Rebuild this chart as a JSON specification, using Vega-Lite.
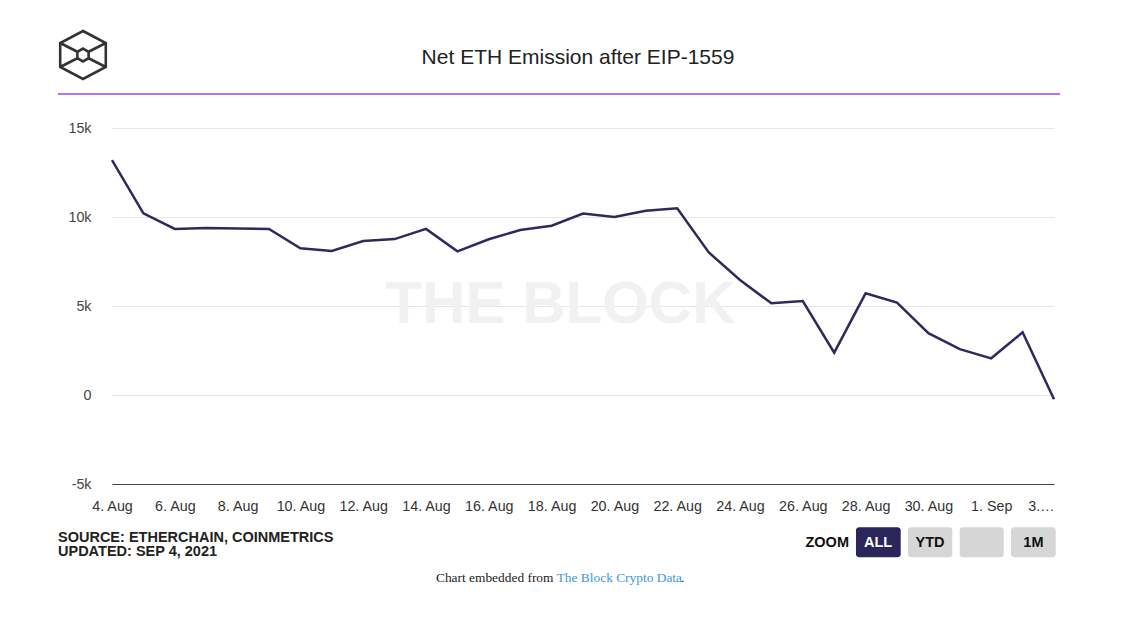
{
  "$schema": "https://vega.github.io/schema/vega-lite/v6.json",
  "width": 942,
  "height": 356,
  "autosize": {"type": "none"},
  "padding": {"left": 112, "top": 128, "right": 86, "bottom": 136},
  "background": "#ffffff",
  "config": {"view": {"stroke": null}, "font": "Liberation Sans"},
  "data": {
    "values": [
      {"date": "2021-08-04", "emission": 13200},
      {"date": "2021-08-05", "emission": 10210},
      {"date": "2021-08-06", "emission": 9330},
      {"date": "2021-08-07", "emission": 9380},
      {"date": "2021-08-08", "emission": 9350},
      {"date": "2021-08-09", "emission": 9330},
      {"date": "2021-08-10", "emission": 8240},
      {"date": "2021-08-11", "emission": 8090},
      {"date": "2021-08-12", "emission": 8650},
      {"date": "2021-08-13", "emission": 8760},
      {"date": "2021-08-14", "emission": 9330},
      {"date": "2021-08-15", "emission": 8070},
      {"date": "2021-08-16", "emission": 8750},
      {"date": "2021-08-17", "emission": 9270},
      {"date": "2021-08-18", "emission": 9510},
      {"date": "2021-08-19", "emission": 10190},
      {"date": "2021-08-20", "emission": 10000},
      {"date": "2021-08-21", "emission": 10350},
      {"date": "2021-08-22", "emission": 10490},
      {"date": "2021-08-23", "emission": 8020},
      {"date": "2021-08-24", "emission": 6460},
      {"date": "2021-08-25", "emission": 5150},
      {"date": "2021-08-26", "emission": 5280},
      {"date": "2021-08-27", "emission": 2380},
      {"date": "2021-08-28", "emission": 5710},
      {"date": "2021-08-29", "emission": 5190},
      {"date": "2021-08-30", "emission": 3470},
      {"date": "2021-08-31", "emission": 2580},
      {"date": "2021-09-01", "emission": 2060},
      {"date": "2021-09-02", "emission": 3520},
      {"date": "2021-09-03", "emission": -240}
    ]
  },
  "layer": [
    {
      "data": {"values": [{}]},
      "mark": {"type": "text", "text": "THE BLOCK", "fontSize": 60, "fontWeight": "bold", "color": "#f1f1f1", "align": "center", "baseline": "alphabetic"},
      "encoding": {
        "x": {"datum": {"year": 2021, "month": 8, "date": 18, "hours": 6, "minutes": 47, "utc": true}, "type": "temporal"},
        "y": {"datum": 4045, "type": "quantitative"}
      }
    },
    {
      "mark": {"type": "line", "color": "#2d2a5f", "strokeWidth": 2.5, "strokeJoin": "miter"},
      "encoding": {
        "x": {
          "field": "date",
          "type": "temporal",
          "scale": {"type": "utc", "domain": [{"year": 2021, "month": 8, "date": 4, "utc": true}, {"year": 2021, "month": 9, "date": 3, "utc": true}]},
          "axis": {
            "title": null,
            "format": "%-d. %b",
            "values": [
              {"year": 2021, "month": 8, "date": 4, "utc": true},
              {"year": 2021, "month": 8, "date": 6, "utc": true},
              {"year": 2021, "month": 8, "date": 8, "utc": true},
              {"year": 2021, "month": 8, "date": 10, "utc": true},
              {"year": 2021, "month": 8, "date": 12, "utc": true},
              {"year": 2021, "month": 8, "date": 14, "utc": true},
              {"year": 2021, "month": 8, "date": 16, "utc": true},
              {"year": 2021, "month": 8, "date": 18, "utc": true},
              {"year": 2021, "month": 8, "date": 20, "utc": true},
              {"year": 2021, "month": 8, "date": 22, "utc": true},
              {"year": 2021, "month": 8, "date": 24, "utc": true},
              {"year": 2021, "month": 8, "date": 26, "utc": true},
              {"year": 2021, "month": 8, "date": 28, "utc": true},
              {"year": 2021, "month": 8, "date": 30, "utc": true},
              {"year": 2021, "month": 9, "date": 1, "utc": true},
              {"year": 2021, "month": 9, "date": 3, "utc": true}
            ],
            "labelExpr": "+datum.value >= utc(2021, 8, 3) ? '3.…' : datum.label",
            "labelAlign": {"condition": {"test": "+datum.value >= utc(2021, 8, 3)", "value": "right"}, "value": "center"},
            "labelFontSize": 14.3,
            "labelColor": "#333333",
            "labelPadding": 15,
            "labelOverlap": false,
            "grid": false,
            "ticks": false,
            "domain": true,
            "domainColor": "#444444",
            "domainWidth": 1
          }
        },
        "y": {
          "field": "emission",
          "type": "quantitative",
          "scale": {"domain": [-5000, 15000], "nice": false, "zero": false},
          "axis": {
            "title": null,
            "values": [-5000, 0, 5000, 10000, 15000],
            "labelExpr": "datum.value == 0 ? '0' : (datum.value / 1000) + 'k'",
            "labelFontSize": 14.3,
            "labelColor": "#444444",
            "labelPadding": 21,
            "grid": true,
            "gridColor": "#e6e6e6",
            "gridWidth": 1,
            "ticks": false,
            "domain": false
          }
        }
      }
    },
    {
      "data": {"values": [{}]},
      "mark": {"type": "text", "text": "Net ETH Emission after EIP-1559", "fontSize": 21, "color": "#222222", "align": "center", "baseline": "alphabetic"},
      "encoding": {
        "x": {"datum": {"year": 2021, "month": 8, "date": 18, "hours": 20, "minutes": 11, "utc": true}, "type": "temporal"},
        "y": {"datum": 18596, "type": "quantitative"}
      }
    },
    {
      "data": {"values": [{}]},
      "mark": {"type": "rule", "color": "#b374f0", "strokeWidth": 2},
      "encoding": {
        "x": {"datum": {"year": 2021, "month": 8, "date": 2, "hours": 6, "minutes": 44, "utc": true}, "type": "temporal"},
        "x2": {"datum": {"year": 2021, "month": 9, "date": 3, "hours": 4, "minutes": 35, "utc": true}},
        "y": {"datum": 16910, "type": "quantitative"}
      }
    },
    {
      "data": {"values": [{}]},
      "mark": {
        "type": "point",
        "shape": "M0,-1L0.95,-0.5L0.95,0.5L0,1L-0.95,0.5L-0.95,-0.5ZM0,-0.27L0.234,-0.135L0.234,0.135L0,0.27L-0.234,0.135L-0.234,-0.135ZM-0.95,-0.5L-0.234,-0.135M0.95,-0.5L0.234,-0.135M-0.95,0.5L-0.234,0.135M0.95,0.5L0.234,0.135",
        "size": 2304,
        "filled": false,
        "stroke": "#333333",
        "strokeWidth": 2.6,
        "opacity": 1
      },
      "encoding": {
        "x": {"datum": {"year": 2021, "month": 8, "date": 3, "hours": 1, "minutes": 50, "utc": true}, "type": "temporal"},
        "y": {"datum": 19101, "type": "quantitative"}
      }
    },
    {
      "data": {"values": [{}]},
      "mark": {"type": "text", "text": "SOURCE: ETHERCHAIN, COINMETRICS", "fontSize": 14.5, "fontWeight": "bold", "color": "#222222", "align": "left", "baseline": "alphabetic"},
      "encoding": {
        "x": {"datum": {"year": 2021, "month": 8, "date": 2, "hours": 6, "minutes": 44, "utc": true}, "type": "temporal"},
        "y": {"datum": -8242, "type": "quantitative"}
      }
    },
    {
      "data": {"values": [{}]},
      "mark": {"type": "text", "text": "UPDATED: SEP 4, 2021", "fontSize": 14.5, "fontWeight": "bold", "color": "#222222", "align": "left", "baseline": "alphabetic"},
      "encoding": {
        "x": {"datum": {"year": 2021, "month": 8, "date": 2, "hours": 6, "minutes": 44, "utc": true}, "type": "temporal"},
        "y": {"datum": -9045, "type": "quantitative"}
      }
    },
    {
      "data": {"values": [{}]},
      "mark": {"type": "text", "text": "Chart embedded from", "font": "Liberation Serif", "fontSize": 13.4, "color": "#222222", "align": "right", "baseline": "alphabetic"},
      "encoding": {
        "x": {"datum": {"year": 2021, "month": 8, "date": 18, "hours": 1, "minutes": 26, "utc": true}, "type": "temporal"},
        "y": {"datum": -10506, "type": "quantitative"}
      }
    },
    {
      "data": {"values": [{}]},
      "mark": {"type": "text", "text": "The Block Crypto Data", "font": "Liberation Serif", "fontSize": 13.4, "color": "#3b99d6", "align": "left", "baseline": "alphabetic"},
      "encoding": {
        "x": {"datum": {"year": 2021, "month": 8, "date": 18, "hours": 3, "minutes": 53, "utc": true}, "type": "temporal"},
        "y": {"datum": -10506, "type": "quantitative"}
      }
    },
    {
      "data": {"values": [{}]},
      "mark": {"type": "text", "text": ".", "font": "Liberation Serif", "fontSize": 13.4, "color": "#222222", "align": "left", "baseline": "alphabetic"},
      "encoding": {
        "x": {"datum": {"year": 2021, "month": 8, "date": 22, "hours": 2, "minutes": 54, "utc": true}, "type": "temporal"},
        "y": {"datum": -10506, "type": "quantitative"}
      }
    },
    {
      "data": {"values": [{}]},
      "mark": {"type": "text", "text": "ZOOM", "fontSize": 14.5, "fontWeight": "bold", "color": "#111111", "align": "right", "baseline": "alphabetic"},
      "encoding": {
        "x": {"datum": {"year": 2021, "month": 8, "date": 27, "hours": 11, "minutes": 18, "utc": true}, "type": "temporal"},
        "y": {"datum": -8556, "type": "quantitative"}
      }
    },
    {
      "data": {"values": [{}]},
      "mark": {"type": "rect", "color": "#2b255c", "cornerRadius": 3},
      "encoding": {
        "x": {"datum": {"year": 2021, "month": 8, "date": 27, "hours": 16, "minutes": 39, "utc": true}, "type": "temporal"},
        "x2": {"datum": {"year": 2021, "month": 8, "date": 29, "hours": 2, "minutes": 50, "utc": true}},
        "y": {"datum": -7433, "type": "quantitative"},
        "y2": {"datum": -9118}
      }
    },
    {
      "data": {"values": [{}]},
      "mark": {"type": "rect", "color": "#d6d6d6", "cornerRadius": 3},
      "encoding": {
        "x": {"datum": {"year": 2021, "month": 8, "date": 29, "hours": 8, "minutes": 24, "utc": true}, "type": "temporal"},
        "x2": {"datum": {"year": 2021, "month": 8, "date": 30, "hours": 18, "minutes": 16, "utc": true}},
        "y": {"datum": -7433, "type": "quantitative"},
        "y2": {"datum": -9118}
      }
    },
    {
      "data": {"values": [{}]},
      "mark": {"type": "rect", "color": "#d6d6d6", "cornerRadius": 3},
      "encoding": {
        "x": {"datum": {"year": 2021, "month": 8, "date": 30, "hours": 23, "minutes": 56, "utc": true}, "type": "temporal"},
        "x2": {"datum": {"year": 2021, "month": 9, "date": 1, "hours": 9, "minutes": 33, "utc": true}},
        "y": {"datum": -7433, "type": "quantitative"},
        "y2": {"datum": -9118}
      }
    },
    {
      "data": {"values": [{}]},
      "mark": {"type": "rect", "color": "#d6d6d6", "cornerRadius": 3},
      "encoding": {
        "x": {"datum": {"year": 2021, "month": 9, "date": 1, "hours": 15, "minutes": 9, "utc": true}, "type": "temporal"},
        "x2": {"datum": {"year": 2021, "month": 9, "date": 3, "hours": 1, "minutes": 18, "utc": true}},
        "y": {"datum": -7433, "type": "quantitative"},
        "y2": {"datum": -9118}
      }
    },
    {
      "data": {"values": [{}]},
      "mark": {"type": "text", "text": "ALL", "fontSize": 14.5, "fontWeight": "bold", "color": "#ffffff", "align": "center", "baseline": "alphabetic"},
      "encoding": {
        "x": {"datum": {"year": 2021, "month": 8, "date": 28, "hours": 9, "minutes": 29, "utc": true}, "type": "temporal"},
        "y": {"datum": -8556, "type": "quantitative"}
      }
    },
    {
      "data": {"values": [{}]},
      "mark": {"type": "text", "text": "YTD", "fontSize": 14.5, "fontWeight": "bold", "color": "#111111", "align": "center", "baseline": "alphabetic"},
      "encoding": {
        "x": {"datum": {"year": 2021, "month": 8, "date": 30, "hours": 1, "minutes": 13, "utc": true}, "type": "temporal"},
        "y": {"datum": -8556, "type": "quantitative"}
      }
    },
    {
      "data": {"values": [{}]},
      "mark": {"type": "text", "text": "1M", "fontSize": 14.5, "fontWeight": "bold", "color": "#111111", "align": "center", "baseline": "alphabetic"},
      "encoding": {
        "x": {"datum": {"year": 2021, "month": 9, "date": 2, "hours": 8, "minutes": 15, "utc": true}, "type": "temporal"},
        "y": {"datum": -8556, "type": "quantitative"}
      }
    }
  ]
}
